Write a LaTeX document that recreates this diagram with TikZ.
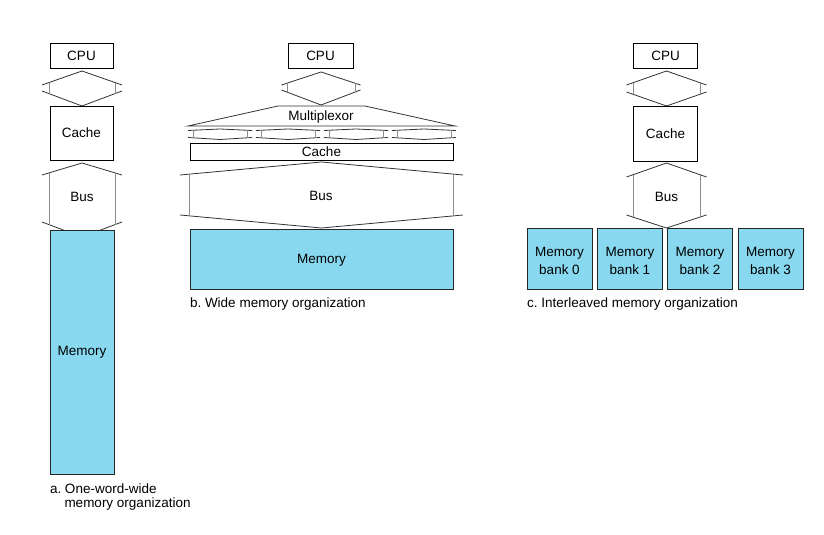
\documentclass[tikz,border=0pt]{standalone}
\usepackage{fontspec}
\setmainfont{Liberation Sans}
\frenchspacing
\definecolor{memblue}{RGB}{136,216,240}
\definecolor{busdark}{RGB}{50,50,50}
\definecolor{busgray}{RGB}{140,140,140}
\newcommand{\membus}[7]{%
  \pgfmathsetmacro\mbL{#1-#6}\pgfmathsetmacro\mbR{#1+#6}%
  \pgfmathsetmacro\mbVL{#1-#7}\pgfmathsetmacro\mbVR{#1+#7}%
  \pgfmathsetmacro\mbUt{#2+(#3-#2)*#7/#6}%
  \pgfmathsetmacro\mbUb{#5+(#4-#5)*#7/#6}%
  \draw[busline] (\mbL,#3) -- (#1,#2) -- (\mbR,#3);
  \draw[busline] (\mbL,#4) -- (#1,#5) -- (\mbR,#4);
  \draw[busvert] (\mbVL,\mbUt) -- (\mbVL,\mbUb);
  \draw[busvert] (\mbVR,\mbUt) -- (\mbVR,\mbUb);
}
\begin{document}
\begin{tikzpicture}[x=1bp,y=-1bp,
  every node/.style={font=\fontsize{13.5bp}{18bp}\selectfont, inner sep=0pt, outer sep=0pt},
  box/.style={draw=black, line width=0.9bp, fill=white},
  membox/.style={draw=black!85, line width=0.9bp, fill=memblue},
  busline/.style={draw=busdark, line width=0.8bp},
  busvert/.style={draw=busgray, line width=1bp},
  caption/.style={anchor=west}]
\useasboundingbox (0,0) rectangle (824,535);
\fill[white] (0,0) rectangle (824,535);

% ---------- a. one-word-wide ----------
\node[box, minimum width=63bp, minimum height=25bp] (cpuA) at (81.5,55.5) {CPU};
\membus{82}{71}{85}{91}{106}{40}{33}
\node[box, minimum width=63bp, minimum height=54bp] (cacheA) at (81.5,133) {Cache};
\membus{82}{163}{175}{222}{237}{40}{33}
\node (busA) at (82,197) {Bus};
\node[membox, minimum width=64bp, minimum height=244bp] (memA) at (82,352) {};
\node (memAtext) at (82,352) {Memory};
\node[caption] (capA1) at (50,489) {a. One-word-wide};
\node[caption] (capA2) at (64.5,504) {memory organization};

% ---------- b. wide ----------
\node[box, minimum width=65bp, minimum height=25bp] (cpuB) at (320.5,55.5) {CPU};
\membus{321}{72}{85}{90}{105}{39.5}{34}
\draw[busline] (278,106) -- (365,106) -- (455,126) -- (188,126) -- cycle;
\node (mux) at (321,117.5) {Multiplexor};
\membus{220}{129}{130.5}{137.5}{139.5}{32}{27}
\membus{288}{129}{130.5}{137.5}{139.5}{32}{27}
\membus{356}{129}{130.5}{137.5}{139.5}{32}{27}
\membus{424}{129}{130.5}{137.5}{139.5}{32}{27}
\node[box, minimum width=263bp, minimum height=17bp] (cacheB) at (321.5,151.5) {Cache};
\membus{321.5}{162}{175}{215}{228}{141.5}{132}
\node (busB) at (321,196) {Bus};
\node[membox, minimum width=263bp, minimum height=60bp] (memB) at (321.5,259) {};
\node (memBtext) at (321.5,260) {Memory};
\node[caption] (capB) at (190,304) {b. Wide memory organization};

% ---------- c. interleaved ----------
\node[box, minimum width=64bp, minimum height=25bp] (cpuC) at (665.5,55.5) {CPU};
\membus{666.5}{71}{85}{92}{106}{40}{33.5}
\node[box, minimum width=64bp, minimum height=55bp] (cacheC) at (665.5,133.5) {Cache};
\membus{666.5}{163}{177}{215}{228}{40}{33.5}
\node (busC) at (666.5,197) {Bus};
\foreach \i/\xl in {0/527,1/597.5,2/667.5,3/738}{
  \node[membox, minimum width=65bp, minimum height=61bp]
    (bank\i) at (\xl+32.5,258.5) {};
  \node[align=center] (bank\i text) at (\xl+32.5,261) {Memory\\bank \i};
}
\node[caption] (capC) at (527,304) {c. Interleaved memory organization};
\end{tikzpicture}
\end{document}
